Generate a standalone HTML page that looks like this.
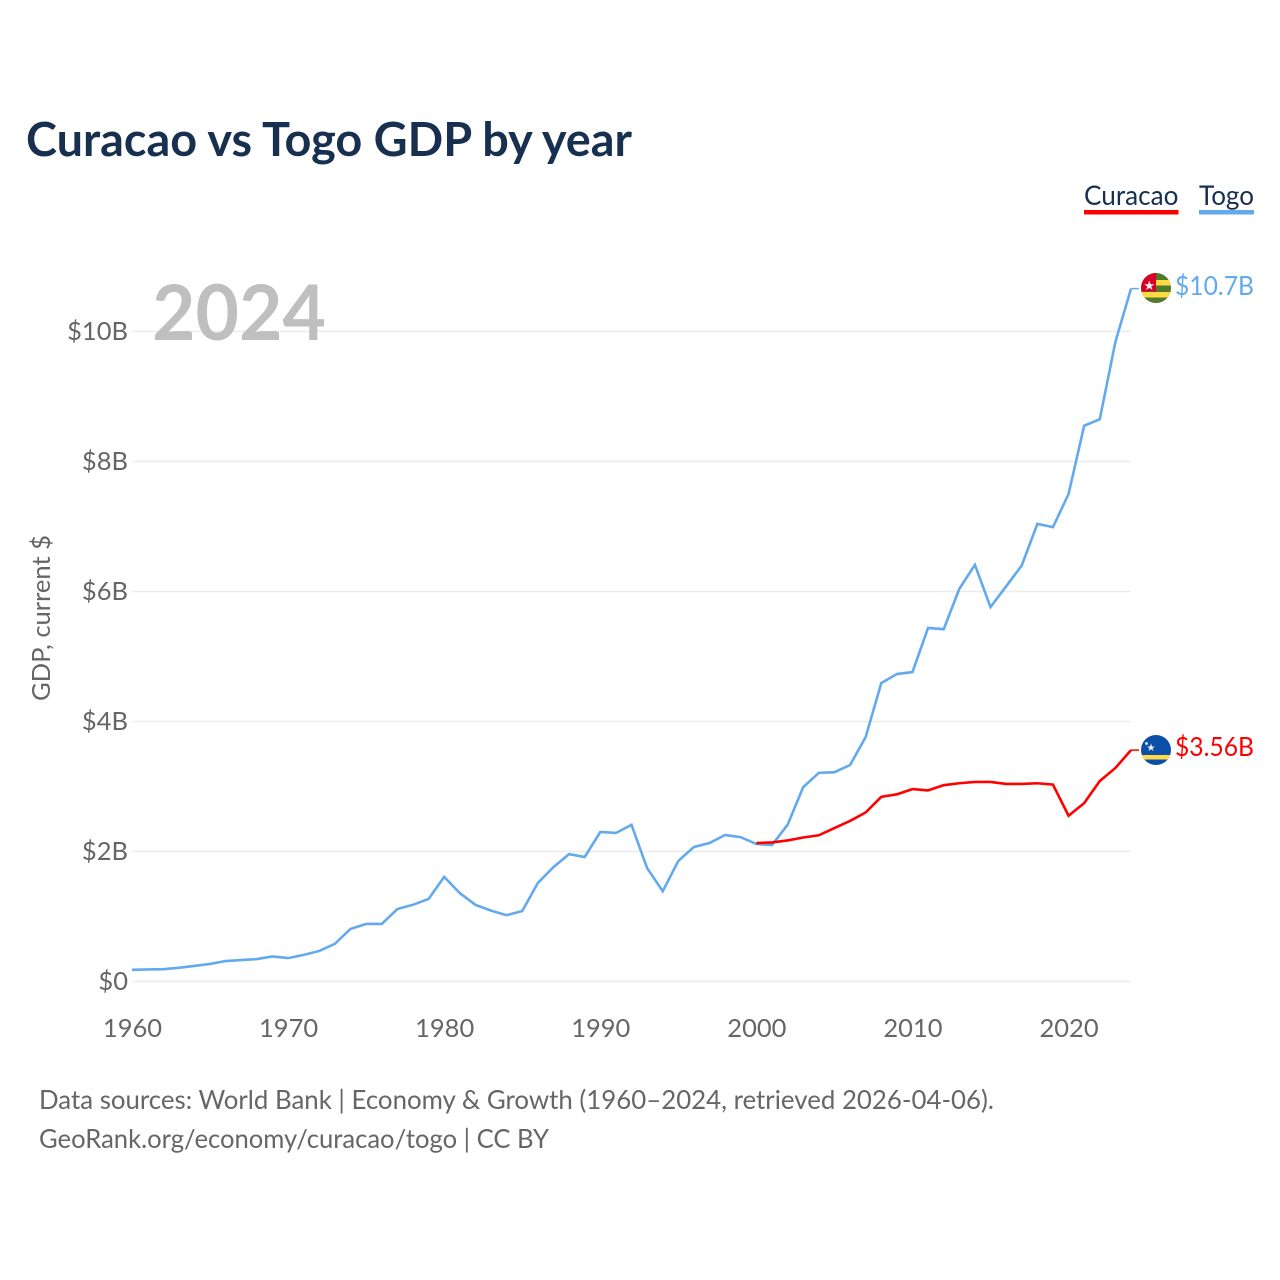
<!DOCTYPE html>
<html lang="en">
<head>
<meta charset="utf-8">
<title>Curacao vs Togo GDP by year</title>
<style>
html,body{margin:0;padding:0;background:#fff;}
svg{display:block;}
text{font-family:"Lato","Carlito","Liberation Sans",sans-serif;}
</style>
</head>
<body>
<svg id="chart" xmlns="http://www.w3.org/2000/svg" width="1280" height="1280" viewBox="0 0 1280 1280">
  <rect width="1280" height="1280" fill="#ffffff"/>
  <text x="26" y="156" font-size="47" font-weight="700" fill="#18304f" textLength="606" lengthAdjust="spacingAndGlyphs">Curacao vs Togo GDP by year</text>

  <g>
    <g>
      <text x="1084" y="205" font-size="27.5" fill="#18304f" textLength="94.5" lengthAdjust="spacingAndGlyphs">Curacao</text>
      <rect x="1084" y="210" width="94.5" height="4.5" fill="#ff0000"/>
    </g>
    <g>
      <text x="1199" y="205" font-size="27.5" fill="#18304f" textLength="55" lengthAdjust="spacingAndGlyphs">Togo</text>
      <rect x="1199" y="210" width="55" height="4.5" fill="#63a9ee"/>
    </g>
  </g>

  <g id="grid"></g>
  <g id="y-axis"></g>
  <g id="x-axis"></g>

  <text x="152" y="340" font-size="77" font-weight="700" fill="#bfbfbf" textLength="174" lengthAdjust="spacingAndGlyphs">2024</text>

  <text transform="translate(50,618) rotate(-90)" text-anchor="middle" font-size="25.5" fill="#666666" textLength="166" lengthAdjust="spacingAndGlyphs">GDP, current $</text>

  <g id="series"></g>

  <defs>
    <clipPath id="togo-clip"><circle cx="1156" cy="288" r="15"/></clipPath>
    <clipPath id="curacao-clip"><circle cx="1156" cy="750" r="15"/></clipPath>
  </defs>

  <g clip-path="url(#togo-clip)">
    <rect x="1141" y="273" width="30" height="30" fill="#4f7a2a"/>
    <rect x="1141" y="280" width="30" height="5.5" fill="#ffda44"/>
    <rect x="1141" y="292" width="30" height="5.5" fill="#ffda44"/>
    <rect x="1141" y="273" width="15" height="18.5" fill="#d80027"/>
    <polygon points="1149.3,280.6 1150.6,284.2 1154.3,284.2 1151.3,286.5 1152.5,290 1149.3,287.9 1146.1,290 1147.3,286.5 1144.3,284.2 1148,284.2" fill="#f0f0f0"/>
  </g>
  <g clip-path="url(#curacao-clip)">
    <rect x="1141" y="735" width="30" height="30" fill="#0a50a8"/>
    <rect x="1141" y="755" width="30" height="4.5" fill="#ffda44"/>
    <polygon points="1151,743.5 1152,746.5 1155,746.5 1152.6,748.2 1153.5,751 1151,749.3 1148.5,751 1149.4,748.2 1147,746.5 1150,746.5" fill="#f0f0f0"/>
    <circle cx="1146.5" cy="743.5" r="1.4" fill="#f0f0f0"/>
  </g>

  <text x="1175" y="295" font-size="26.5" fill="#63a9ee" textLength="79" lengthAdjust="spacingAndGlyphs">$10.7B</text>
  <text x="1175" y="756" font-size="26.5" fill="#ff0000" textLength="79" lengthAdjust="spacingAndGlyphs">$3.56B</text>

  <text x="39" y="1109" font-size="26.5" fill="#666666" textLength="955" lengthAdjust="spacingAndGlyphs">Data sources: World Bank | Economy &amp; Growth (1960–2024, retrieved 2026-04-06).</text>
  <text x="39" y="1148" font-size="26.5" fill="#666666" textLength="510" lengthAdjust="spacingAndGlyphs">GeoRank.org/economy/curacao/togo | CC BY</text>
</svg>

<script>
const togoStartYear = 1960;
const curacaoStartYear = 2000;
const togoValues = [0.18,0.185,0.19,0.21,0.24,0.27,0.315,0.33,0.345,0.385,0.36,0.41,0.47,0.58,0.81,0.885,0.885,1.115,1.18,1.27,1.61,1.36,1.18,1.09,1.02,1.085,1.515,1.76,1.96,1.915,2.30,2.285,2.41,1.745,1.39,1.855,2.07,2.13,2.255,2.22,2.115,2.10,2.41,2.99,3.21,3.22,3.33,3.76,4.59,4.73,4.76,5.44,5.42,6.04,6.41,5.76,6.08,6.40,7.04,6.99,7.50,8.55,8.65,9.84,10.66];
const curacaoValues = [2.13,2.14,2.17,2.215,2.25,2.36,2.47,2.60,2.84,2.88,2.96,2.94,3.02,3.05,3.07,3.07,3.04,3.04,3.05,3.03,2.55,2.745,3.085,3.285,3.56];
const yTickValues = [0,2,4,6,8,10];
const yTickLabels = ["$0","$2B","$4B","$6B","$8B","$10B"];
const xTickYears = [1960,1970,1980,1990,2000,2010,2020];

const NS = "http://www.w3.org/2000/svg";
const X_AXIS_MIN = 1960, X_AXIS_MAX = 2024, PLOT_LEFT = 132, PLOT_RIGHT = 1131;
const Y_AXIS_MAX = 10, PLOT_BOTTOM = 981.5, PLOT_TOP = 331.5;
const xScale = year => PLOT_LEFT + (year - X_AXIS_MIN) / (X_AXIS_MAX - X_AXIS_MIN) * (PLOT_RIGHT - PLOT_LEFT);
const yScale = value => PLOT_BOTTOM - value / Y_AXIS_MAX * (PLOT_BOTTOM - PLOT_TOP);

function svgEl(tag, attrs, parent) {
  const el = document.createElementNS(NS, tag);
  for (const key in attrs) el.setAttribute(key, attrs[key]);
  parent.appendChild(el);
  return el;
}

const gridGroup = document.getElementById("grid");
const yAxisGroup = document.getElementById("y-axis");
const xAxisGroup = document.getElementById("x-axis");
const seriesGroup = document.getElementById("series");

yTickValues.forEach((value, i) => {
  const line = svgEl("line", {x1: PLOT_LEFT, x2: PLOT_RIGHT, y1: yScale(value), y2: yScale(value), stroke: "#ebebeb", "stroke-width": 1.5}, gridGroup);
  
  
  const label = svgEl("text", {x: 128, y: yScale(value) + 8.5, "text-anchor": "end", "font-size": 25.5, fill: "#666666"}, yAxisGroup);
  
  
  label.textContent = yTickLabels[i];
});

xTickYears.forEach(year => {
  const label = svgEl("text", {x: xScale(year) + 0.5, y: 1037, "text-anchor": "middle", "font-size": 25.5, fill: "#666666"}, xAxisGroup);
  
  
  label.textContent = year;
});

function drawSeries(values, startYear, color, lineName, connectorName) {
  const pts = values.map((value, i) => xScale(startYear + i).toFixed(2) + "," + yScale(value).toFixed(2));
  const line = svgEl("polyline", {points: pts.join(" "), fill: "none", stroke: color, "stroke-width": 2.6, "stroke-linejoin": "miter"}, seriesGroup);
  
  
  const lastValue = values[values.length - 1];
  const connector = svgEl("line", {x1: PLOT_RIGHT, x2: PLOT_RIGHT + 8, y1: yScale(lastValue), y2: yScale(lastValue), stroke: color, "stroke-width": 1.5}, seriesGroup);
  
  
}

drawSeries(togoValues, togoStartYear, "#63a9ee", "togo-line", "togo-label-connector");
drawSeries(curacaoValues, curacaoStartYear, "#ff0000", "curacao-line", "curacao-label-connector");
</script>
</body>
</html>
